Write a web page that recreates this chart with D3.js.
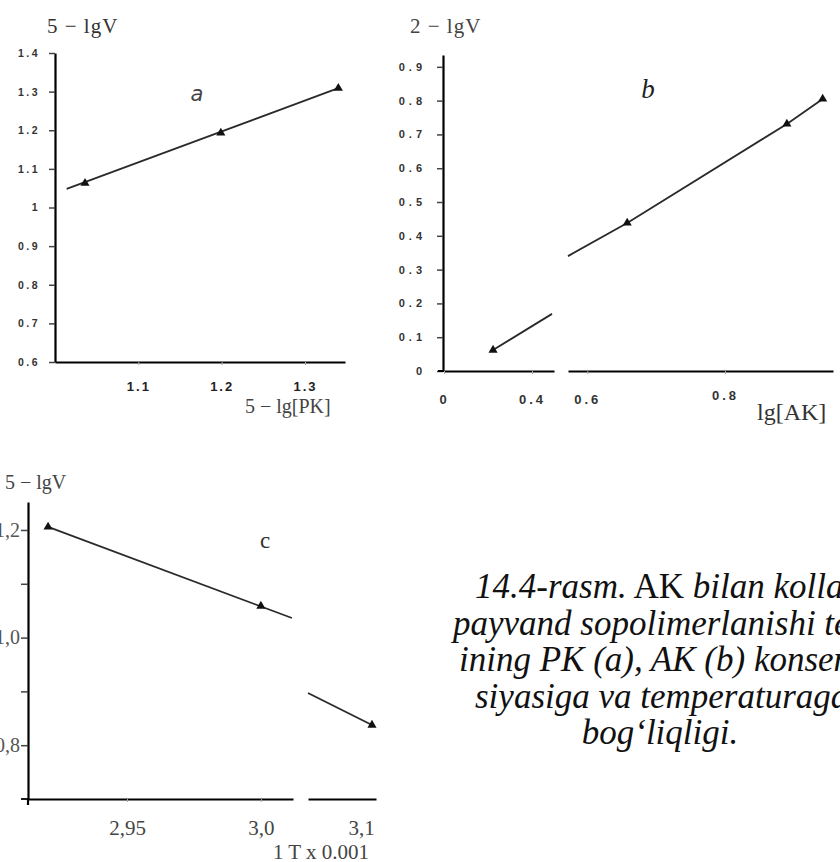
<!DOCTYPE html>
<html><head><meta charset="utf-8">
<script src="https://cdn.jsdelivr.net/npm/d3@7"></script>
<style>
html,body{margin:0;padding:0;background:#fff;}
svg{display:block;}
</style></head>
<body>
<svg id="chart" width="840" height="862"></svg>
<script>
// ---------- data ----------
// Panel a
const aYTicks = [0.6,0.7,0.8,0.9,1.0,1.1,1.2,1.3,1.4];
const aYTickLabels = ["0.6","0.7","0.8","0.9","1","1.1","1.2","1.3","1.4"];
const aXTicks = [1.1,1.2,1.3];
const aXTickLabels = ["1.1","1.2","1.3"];
const aPointsX = [1.036,1.199,1.340];
const aPointsY = [1.063,1.193,1.309];
const aLineX = [1.014,1.340];
const aLineY = [1.048,1.309];
// Panel b (broken x axis)
const bYTicks = [0,0.1,0.2,0.3,0.4,0.5,0.6,0.7,0.8,0.9];
const bYTickLabels = ["0","0.1","0.2","0.3","0.4","0.5","0.6","0.7","0.8","0.9"];
const bX1Ticks = [0,0.4];
const bX1TickLabels = ["0","0.4"];
const bX2Ticks = [0.6,0.8];
const bX2TickLabels = ["0.6","0.8"];
const b1PointsX = [0.223];
const b1PointsY = [0.062];
const b1LineX = [0.223,0.491];
const b1LineY = [0.062,0.169];
const b2PointsX = [0.658,0.890,0.942];
const b2PointsY = [0.438,0.731,0.805];
const b2LineX = [0.572,0.658,0.890,0.942];
const b2LineY = [0.340,0.438,0.731,0.805];
// Panel c (broken x axis)
const cYTicks = [0.8,0.9,1.0,1.1,1.2];
const cYTickLabels = ["0,8","","1,0","","1,2"];
const cX1Ticks = [2.95,3.0];
const cX1TickLabels = ["2,95","3,0"];
const cX2Ticks = [3.1];
const cX2TickLabels = ["3,1"];
const c1PointsX = [2.9205,3.0];
const c1PointsY = [1.2056,1.0587];
const c1LineX = [2.9205,3.0116];
const c1LineY = [1.2056,1.0364];
const c2PointsX = [3.1041];
const c2PointsY = [0.8375];
const c2LineX = [3.0802,3.1041];
const c2LineY = [0.897,0.8375];
// Texts
const axisTitles = {aY:"5 − lgV", aX:"5 − lg[PK]", bY:"2 − lgV", bX:"lg[AK]", cY:"5 − lgV", cX:"1 T x 0.001"};
const captionLines = [
  [["14.4-rasm.","i"],[" AK","n"],[" bilan kollagenning","i"]],
  [["payvand sopolimerlanishi tezlig-","i"]],
  [["ining PK (a), AK (b) konsentrat-","i"]],
  [["siyasiga va temperaturaga","i"]],
  [["bog‘liqligi.","i"]]
];

// ---------- drawing ----------
const svg = d3.select("#chart");
const lineColor = "#2a2a2a";
const serif = "Liberation Serif, Times New Roman, serif";
const sans = "Liberation Sans, Arial, sans-serif";
const tri = d3.symbol().type(d3.symbolTriangle).size(36);

function drawSeries(g, xS, yS, lx, ly, px, py){
  g.append("path")
    .attr("d", d3.line()(lx.map((v,i)=>[xS(v), yS(ly[i])])))
    .attr("fill","none").attr("stroke",lineColor).attr("stroke-width",1.8);
  g.selectAll(null).data(px).enter().append("path")
    .attr("d", tri)
    .attr("transform",(d,i)=>`translate(${xS(d)},${yS(py[i])})`)
    .attr("fill","#111");
}

function styleAxis(g, domainW, tickW, tickColor, font){
  g.select(".domain").attr("stroke","#000").attr("stroke-width",domainW);
  g.selectAll(".tick line").attr("stroke",tickColor).attr("stroke-width",tickW);
  g.selectAll(".tick text").attr("fill",font.fill).attr("font-family",font.family)
    .attr("font-size",font.size).attr("font-weight",font.weight||"normal")
    .attr("letter-spacing",font.ls||0);
}

// ===== Panel a =====
const xA = d3.scaleLinear().domain([1.0,1.348]).range([55,345]);
const yA = d3.scaleLinear().domain([0.6,1.4]).range([362,53]);
const gA = svg.append("g");
const aYAxis = gA.append("g").attr("transform",`translate(${xA(1.0)},0)`)
  .call(d3.axisLeft(yA).tickValues(aYTicks).tickSizeInner(6).tickSizeOuter(0).tickPadding(9)
    .tickFormat((d,i)=>aYTickLabels[i]));
styleAxis(aYAxis,2.2,1.5,"#444",{fill:"#333",family:sans,size:10.5,weight:"bold",ls:2.5});
const aXAxis = gA.append("g").attr("transform",`translate(0,${yA(0.6)})`)
  .call(d3.axisBottom(xA).tickValues(aXTicks).tickSizeInner(3).tickSizeOuter(0).tickPadding(17)
    .tickFormat((d,i)=>aXTickLabels[i]));
styleAxis(aXAxis,2,1,"#aaa",{fill:"#222",family:sans,size:13,weight:"bold",ls:2});
drawSeries(gA,xA,yA,aLineX,aLineY,aPointsX,aPointsY);
gA.append("text").attr("x",47).attr("y",33).attr("font-family",serif)
  .attr("font-size",21).attr("letter-spacing",1).attr("fill","#333").text(axisTitles.aY);
gA.append("text").attr("x",245).attr("y",413).attr("font-family",serif)
  .attr("font-size",20).attr("fill","#444").text(axisTitles.aX);
gA.append("text").attr("x",197).attr("y",101).attr("text-anchor","middle")
  .attr("font-family","DejaVu Sans, Arial").attr("font-style","italic")
  .attr("font-size",21).attr("fill","#444").text("a");

// ===== Panel b =====
const yB = d3.scaleLinear().domain([0,0.935]).range([371,55]);
const xB1 = d3.scaleLinear().domain([0,0.5]).range([444,554]);
const xB2 = d3.scaleLinear().domain([0.572,0.957]).range([568,833]);
const gB = svg.append("g");
const bYAxis = gB.append("g").attr("transform",`translate(${xB1(0)-1},0)`)
  .call(d3.axisLeft(yB).tickValues(bYTicks).tickSizeInner(6).tickSizeOuter(0).tickPadding(11)
    .tickFormat((d,i)=>bYTickLabels[i]));
styleAxis(bYAxis,2.2,1.5,"#444",{fill:"#333",family:sans,size:11,weight:"bold",ls:4});
const bX1Axis = gB.append("g").attr("transform",`translate(0,${yB(0)})`)
  .call(d3.axisBottom(xB1).tickValues(bX1Ticks).tickSizeInner(3).tickSizeOuter(0).tickPadding(21)
    .tickFormat((d,i)=>bX1TickLabels[i]));
styleAxis(bX1Axis,2,1,"#aaa",{fill:"#333",family:sans,size:13,weight:"bold",ls:3});
const bX2Axis = gB.append("g").attr("transform",`translate(0,${yB(0)})`)
  .call(d3.axisBottom(xB2).tickValues(bX2Ticks).tickSizeInner(3).tickSizeOuter(0).tickPadding(21)
    .tickFormat((d,i)=>bX2TickLabels[i]));
styleAxis(bX2Axis,2,1,"#aaa",{fill:"#333",family:sans,size:13,weight:"bold",ls:3});
bX2Axis.selectAll(".tick").filter(d=>d===0.8).select("text").attr("dy","0.4em");
// small extension of x axis left of y axis
gB.append("line").attr("x1",438).attr("x2",xB1(0)).attr("y1",yB(0)).attr("y2",yB(0))
  .attr("stroke","#000").attr("stroke-width",2);
drawSeries(gB,xB1,yB,b1LineX,b1LineY,b1PointsX,b1PointsY);
drawSeries(gB,xB2,yB,b2LineX,b2LineY,b2PointsX,b2PointsY);
gB.append("text").attr("x",410).attr("y",33).attr("font-family",serif)
  .attr("font-size",21).attr("letter-spacing",1).attr("fill","#444").text(axisTitles.bY);
gB.append("text").attr("x",757).attr("y",420).attr("font-family",serif)
  .attr("font-size",24).attr("fill","#333").text(axisTitles.bX);
gB.append("text").attr("x",648).attr("y",98).attr("text-anchor","middle")
  .attr("font-family",serif).attr("font-style","italic")
  .attr("font-size",27).attr("fill","#222").text("b");

// ===== Panel c =====
const yC = d3.scaleLinear().domain([0.7,1.252]).range([799,502]);
const xC1 = d3.scaleLinear().domain([2.913,3.012]).range([28,293]);
const xC2 = d3.scaleLinear().domain([3.0802,3.1056]).range([308,376]);
const gC = svg.append("g");
const cYAxis = gC.append("g").attr("transform",`translate(${xC1(2.913)},0)`)
  .call(d3.axisLeft(yC).tickValues(cYTicks).tickSizeInner(7).tickSizeOuter(0).tickPadding(1)
    .tickFormat((d,i)=>cYTickLabels[i]));
styleAxis(cYAxis,2.2,1.5,"#444",{fill:"#555",family:serif,size:20});
gC.append("line").attr("x1",xC1(2.913)).attr("x2",xC1(2.913)).attr("y1",yC(0.7)).attr("y2",yC(0.7)+6)
  .attr("stroke","#000").attr("stroke-width",2.2);
const cX1Axis = gC.append("g").attr("transform",`translate(0,${yC(0.7)})`)
  .call(d3.axisBottom(xC1).tickValues(cX1Ticks).tickSizeInner(3).tickSizeOuter(0).tickPadding(18)
    .tickFormat((d,i)=>cX1TickLabels[i]));
styleAxis(cX1Axis,1.8,1,"#aaa",{fill:"#444",family:serif,size:21});
gC.append("line").attr("x1",21).attr("x2",xC1(2.913)).attr("y1",yC(0.7)).attr("y2",yC(0.7))
  .attr("stroke","#000").attr("stroke-width",1.8);
const cX2Axis = gC.append("g").attr("transform",`translate(0,${yC(0.7)})`)
  .call(d3.axisBottom(xC2).tickValues(cX2Ticks).tickSizeInner(0).tickSizeOuter(0).tickPadding(21)
    .tickFormat((d,i)=>cX2TickLabels[i]));
styleAxis(cX2Axis,1.8,1,"#aaa",{fill:"#444",family:serif,size:21});
drawSeries(gC,xC1,yC,c1LineX,c1LineY,c1PointsX,c1PointsY);
drawSeries(gC,xC2,yC,c2LineX,c2LineY,c2PointsX,c2PointsY);
gC.append("text").attr("x",5).attr("y",489).attr("font-family",serif)
  .attr("font-size",20).attr("fill","#444").text(axisTitles.cY);
gC.append("text").attr("x",273).attr("y",859).attr("font-family",serif)
  .attr("font-size",21).attr("fill","#444").text(axisTitles.cX);
gC.append("text").attr("x",265).attr("y",548).attr("text-anchor","middle")
  .attr("font-family",serif)
  .attr("font-size",23).attr("fill","#333").text("c");

// ===== Caption =====
const capX = [475,453,459,475,660];
const capAnchor = ["start","start","start","start","middle"];
const capG = svg.append("g");
captionLines.forEach((parts,li)=>{
  const t = capG.append("text").attr("x",capX[li]).attr("y",598+li*36.5)
    .attr("text-anchor",capAnchor[li])
    .attr("font-family",serif).attr("font-size",35).attr("fill","#111");
  parts.forEach(p=>{
    t.append("tspan").attr("font-style",p[1]==="i"?"italic":"normal").text(p[0]);
  });
});
</script>
</body></html>
